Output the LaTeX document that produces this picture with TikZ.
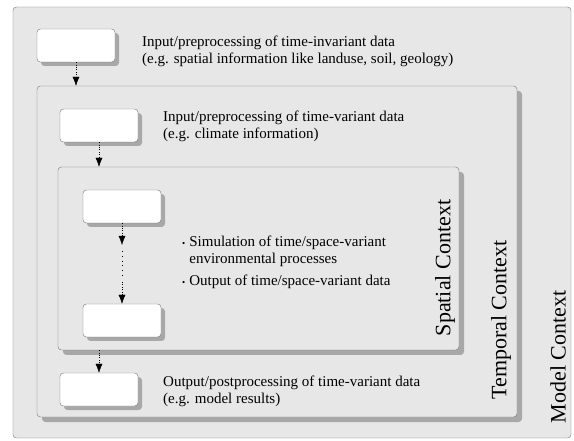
\documentclass[tikz,border=0pt]{standalone}
\usepackage{fontspec}
\setmainfont{Liberation Serif}
\usetikzlibrary{positioning,arrows.meta,shadows}
\tikzstyle{plan} = [x = 1pt, y = -1pt]
\definecolor{panelGray}{RGB}{231,231,231}
\definecolor{edgeGray}{RGB}{115,115,115}
\definecolor{shadowGray}{RGB}{168,168,168}
\tikzstyle{contextFrame} = [draw=edgeGray, fill=panelGray, rounded corners = .12cm, inner sep=0pt,
  drop shadow={shadow xshift=5pt, shadow yshift=-5pt, fill=shadowGray, opacity=1}]
\tikzstyle{outerFrame} = [draw=edgeGray, fill=panelGray, rounded corners = .12cm, inner sep=0pt]
\tikzstyle{stepBox} = [draw=edgeGray, fill=white, rounded corners = .12cm, inner sep=0pt,
  minimum width=78pt, minimum height=33pt,
  drop shadow={shadow xshift=4pt, shadow yshift=-4pt, fill=shadowGray, opacity=1}]
\tikzstyle{stepText} = [anchor=west, align=left, inner sep=0pt, font=\fontsize{15}{17}\selectfont]
\tikzstyle{contextLabel} = [rotate=90, inner sep=0pt, font=\fontsize{22}{24}\selectfont]
\tikzstyle{flow} = [dotted, thin, -{Latex[length=9pt, width=7pt]}]
\newcommand{\contextNode}[5]{\node [contextFrame, minimum width=#4 - #2, minimum height=#5 - #3] (#1) at ({(#2 + #4)/2}, {(#3 + #5)/2}) {};}

\begin{document}
\begin{tikzpicture}[plan]
  \useasboundingbox (0,0) rectangle (574,441);

  % model, temporal and spatial context
  \node [outerFrame, minimum width=558pt, minimum height=431pt] (model) at (292,222.5) {};
  \contextNode{temporal}{37}{86}{517}{417}
  \contextNode{spatial}{58}{167}{459}{350}

  \node [contextLabel] (spatialLabel) at (445,268) {Spatial Context};
  \node [contextLabel] (temporalLabel) at (501,320) {Temporal Context};
  \node [contextLabel] (modelLabel) at (558,357) {Model Context};

  % processing steps
  \node [stepBox] (invariantBox) at (76,45.5) {};
  \node [stepBox] (variantBox) at (99,125.5) {};
  \node [stepBox] (simFirst) at (122,206.5) {};
  \node [stepBox] (simLast) at (122,320.5) {};
  \node [stepBox] (outputBox) at (99,389.5) {};

  \node [stepText] (invariantText) at (142,51) {Input/preprocessing of time-invariant data\\(e.g. spatial information like landuse, soil, geology)};
  \node [stepText] (variantText) at (163,126) {Input/preprocessing of time-variant data\\(e.g. climate information)};
  \node [stepText] (simText) at (182,263) {\begin{tabular}{@{}l@{\hspace{4pt}}l@{}}
      {\small\textbullet} & Simulation of time/space-variant\\
      & environmental processes\\[5pt]
      {\small\textbullet} & Output of time/space-variant data
    \end{tabular}};
  \node [stepText] (outputText) at (163,391) {Output/postprocessing of time-variant data\\(e.g. model results)};

  % connectors
  \coordinate (simGapTop) at (122,245);
  \coordinate (dotsTop) at (122,251);
  \coordinate (dotsBottom) at (122,276);
  \coordinate (simGapBottom) at (122,282);
  \draw [flow] (invariantBox.south) -- (invariantBox.south |- temporal.north);
  \draw [flow] (variantBox.south) -- (variantBox.south |- spatial.north);
  \draw [flow] (simFirst.south) -- (simGapTop);
  \draw [loosely dotted, thick] (dotsTop) -- (dotsBottom);
  \draw [flow] (simGapBottom) -- (simLast.north);
  \draw [flow] (outputBox.north |- spatial.south) -- (outputBox.north);
\end{tikzpicture}
\end{document}
